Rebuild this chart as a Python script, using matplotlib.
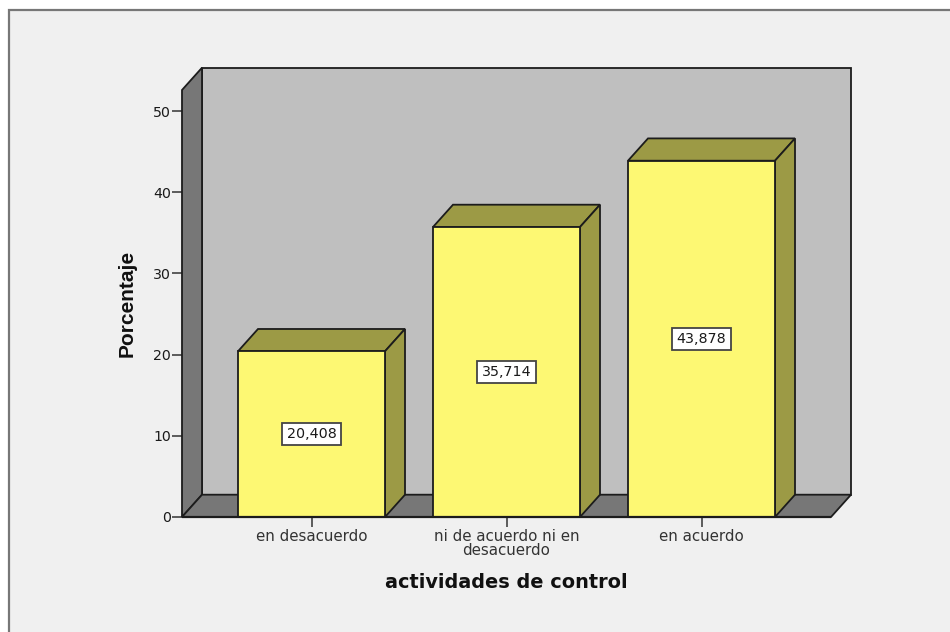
import matplotlib
matplotlib.use("Agg")
import matplotlib.pyplot as plt
from matplotlib.patches import Polygon, Rectangle

categories = ["en desacuerdo", "ni de acuerdo ni en\ndesacuerdo", "en acuerdo"]
values = [20.408, 35.714, 43.878]
value_labels = ["20,408", "35,714", "43,878"]
y_ticks = [0, 10, 20, 30, 40, 50]
x_title = "actividades de control"
y_title = "Porcentaje"

W, H = 950, 632
plt.rcParams["font.family"] = ["DejaVu Sans"]
fig = plt.figure(figsize=(W / 100, H / 100), dpi=100, facecolor="white")

# chart frame
fig.add_artist(Rectangle((9 / W, -0.05), 1, 1.05 - 10 / H, transform=fig.transFigure,
                         facecolor="#f0f0f0", edgecolor="#777777", linewidth=1.6, zorder=-5))

left, right, bottom, top = 182, 831, 517, 90
ax = fig.add_axes([left / W, 1 - bottom / H, (right - left) / W, (bottom - top) / H])
ax.patch.set_visible(False)
for s in ax.spines.values():
    s.set_visible(False)

bar_w = 147 / 195
x0, x1 = -129.5 / 195, 519.5 / 195
ax.set_xlim(x0, x1)
y_scale = 8.12
y_max = (bottom - top) / y_scale
ax.set_ylim(0, y_max)
dx, dy = 20 / 195, 22.3 / y_scale

EDGE = "#1c1c1c"
LW = 1.3

def poly(pts, fc, z):
    ax.add_patch(Polygon(pts, closed=True, facecolor=fc, edgecolor=EDGE,
                         linewidth=LW, zorder=z, clip_on=False, joinstyle="miter"))

# back wall, side wall, floor
poly([(x0 + dx, dy), (x1 + dx, dy), (x1 + dx, y_max + dy), (x0 + dx, y_max + dy)], "#bfbfbf", 1)
poly([(x0, 0), (x0 + dx, dy), (x0 + dx, y_max + dy), (x0, y_max)], "#777777", 2)
poly([(x0, 0), (x1, 0), (x1 + dx, dy), (x0 + dx, dy)], "#777777", 2)

# bars
for i, (v, lab) in enumerate(zip(values, value_labels)):
    a, b = i - bar_w / 2, i + bar_w / 2
    poly([(a, v), (b, v), (b + dx, v + dy), (a + dx, v + dy)], "#9c9a45", 3)
    poly([(b, 0), (b + dx, dy), (b + dx, v + dy), (b, v)], "#9c9a45", 3)
    poly([(a, 0), (b, 0), (b, v), (a, v)], "#fdf873", 4)
    ax.text(i, v / 2, lab, ha="center", va="center", fontsize=10.3, color="#1a1a1a", zorder=6,
            bbox=dict(boxstyle="square,pad=0.3", facecolor="white", edgecolor="#444444", linewidth=1.3))

ax.plot([x0, x1], [0, 0], color=EDGE, lw=LW + 0.3, zorder=5, clip_on=False, solid_capstyle="butt")

ax.set_xticks(range(len(categories)), categories)
ax.set_yticks(y_ticks)
ax.tick_params(axis="x", length=7.2, width=1.1, color="#333333", labelsize=10.8,
               labelcolor="#333333", pad=1.2)
ax.tick_params(axis="y", length=7.2, width=1.1, color="#333333", labelsize=10.2,
               labelcolor="#1a1a1a", pad=0.8)
for t in ax.get_xticklabels():
    t.set_linespacing(0.95)

fig.text(506 / W, 1 - 583 / H, x_title, ha="center", va="center", fontsize=13.9,
         fontweight="bold", color="#111111")
fig.text(127 / W, 1 - 303 / H, y_title, ha="center", va="center", rotation=90, fontsize=15,
         fontweight="bold", color="#111111", family="Liberation Sans")

fig.savefig("out.png", dpi=100, facecolor=fig.get_facecolor())
